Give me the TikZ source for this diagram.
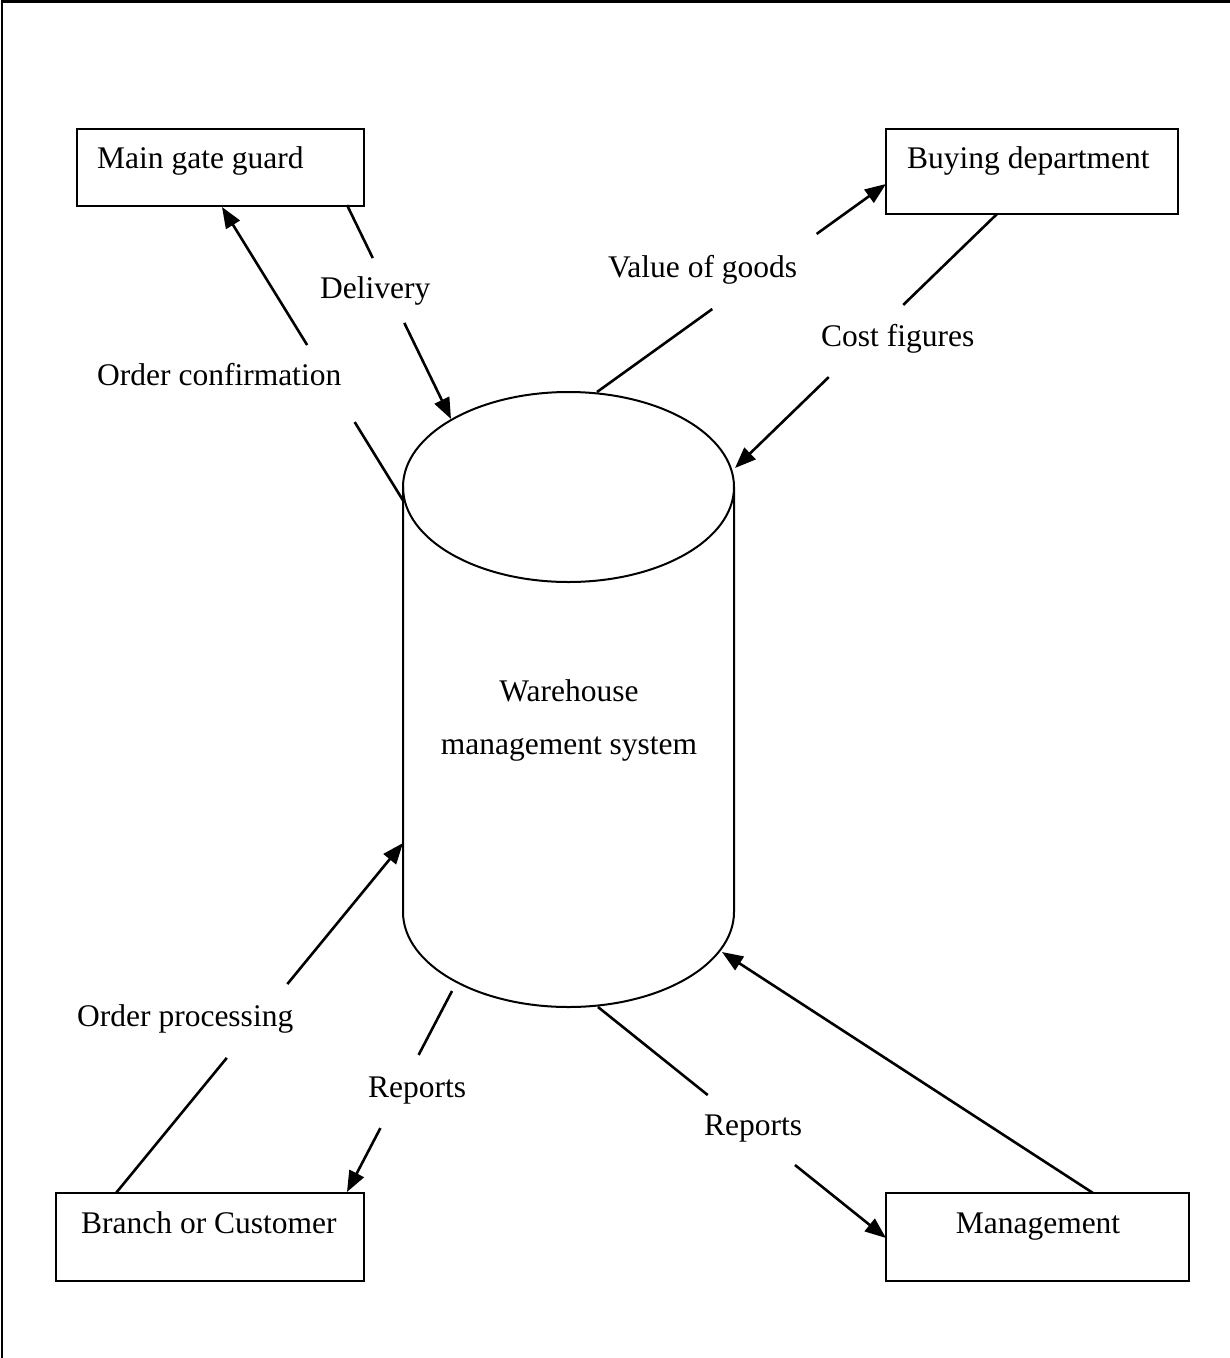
\documentclass[tikz,border=0pt]{standalone}
\usepackage{fontspec}
\setmainfont{Liberation Serif}
\usetikzlibrary{arrows.meta,calc}
\begin{document}
\begin{tikzpicture}[x=1pt,y=-1pt,
  box/.style={draw,line width=2pt,rectangle,inner sep=0pt},
  txt/.style={inner sep=0pt,font=\fontsize{31.5}{38}\selectfont},
  flow/.style={line width=2.6pt},
  tip/.style={-{Triangle[length=21pt,width=16pt]}},
  store/.style={line width=2pt},
]
\useasboundingbox (0,0) rectangle (1230,1358);

% page frame (top and left edges)
\draw[line width=2.5pt] (2,1358) -- (2,1.25) -- (1230,1.25);

% external entities
\node[box,minimum width=287pt,minimum height=77pt] (mg) at (220.5,167.5) {};
\node[txt,anchor=base west] (mgtext) at (97,168) {Main gate guard};

\node[box,minimum width=292pt,minimum height=85pt] (bd) at (1032,171.5) {};
\node[txt,anchor=base west] (bdtext) at (907,168) {Buying department};

\node[box,minimum width=308pt,minimum height=88pt] (bc) at (210,1237) {};
\node[txt,anchor=base west] (bctext) at (81,1233) {Branch or Customer};

\node[box,minimum width=303pt,minimum height=88pt] (mgmt) at (1037.5,1237) {};
\node[txt,anchor=base] (mgmttext) at (1038,1233) {Management};

% data store drawn as a cylinder
\draw[store] (568.5,487) ellipse [x radius=165.5, y radius=95];
\draw[store] (403,487) -- (403,912) arc[start angle=180, end angle=0, x radius=165.5, y radius=95] -- (734,487);
\node[txt,anchor=base] (wms1) at (569,701) {Warehouse};
\node[txt,anchor=base] (wms2) at (569,754) {management system};

% connector end points on the shapes
\coordinate (oc-a) at (404,502);   \coordinate (oc-b) at (222,207);
\coordinate (dl-a) at (347,205);   \coordinate (dl-b) at (451,419);
\coordinate (vg-a) at (597,392);   \coordinate (vg-b) at (886,184);
\coordinate (cf-a) at (997,214);   \coordinate (cf-b) at (735,468);
\coordinate (op-a) at (116,1193);  \coordinate (op-b) at (403,843);
\coordinate (rl-a) at (452,991);   \coordinate (rl-b) at (347,1192);
\coordinate (rr-a) at (598,1007);  \coordinate (rr-b) at (886,1238);
\coordinate (mm-a) at (1093,1193); \coordinate (mm-b) at (722,952);

% data flows, each broken where its label sits
\draw[flow] (oc-a) -- ($(oc-a)!0.271!(oc-b)$);
\draw[flow,tip] ($(oc-a)!0.532!(oc-b)$) -- (oc-b);
\node[txt,anchor=base west] (l-oc) at (97,385) {Order confirmation};

\draw[flow] (dl-a) -- ($(dl-a)!0.248!(dl-b)$);
\draw[flow,tip] ($(dl-a)!0.551!(dl-b)$) -- (dl-b);
\node[txt,anchor=base west] (l-dl) at (320,298) {Delivery};

\draw[flow] (vg-a) -- ($(vg-a)!0.399!(vg-b)$);
\draw[flow,tip] ($(vg-a)!0.760!(vg-b)$) -- (vg-b);
\node[txt,anchor=base west] (l-vg) at (608,277) {Value of goods};

\draw[flow] (cf-a) -- ($(cf-a)!0.358!(cf-b)$);
\draw[flow,tip] ($(cf-a)!0.642!(cf-b)$) -- (cf-b);
\node[txt,anchor=base west] (l-cf) at (821,346) {Cost figures};

\draw[flow] (op-a) -- ($(op-a)!0.386!(op-b)$);
\draw[flow,tip] ($(op-a)!0.597!(op-b)$) -- (op-b);
\node[txt,anchor=base west] (l-op) at (77,1026) {Order processing};

\draw[flow] (rl-a) -- ($(rl-a)!0.318!(rl-b)$);
\draw[flow,tip] ($(rl-a)!0.682!(rl-b)$) -- (rl-b);
\node[txt,anchor=base west] (l-rl) at (368,1097) {Reports};

\draw[flow] (rr-a) -- ($(rr-a)!0.381!(rr-b)$);
\draw[flow,tip] ($(rr-a)!0.684!(rr-b)$) -- (rr-b);
\node[txt,anchor=base west] (l-rr) at (704,1135) {Reports};

\draw[flow,tip] (mm-a) -- (mm-b);
\end{tikzpicture}
\end{document}
